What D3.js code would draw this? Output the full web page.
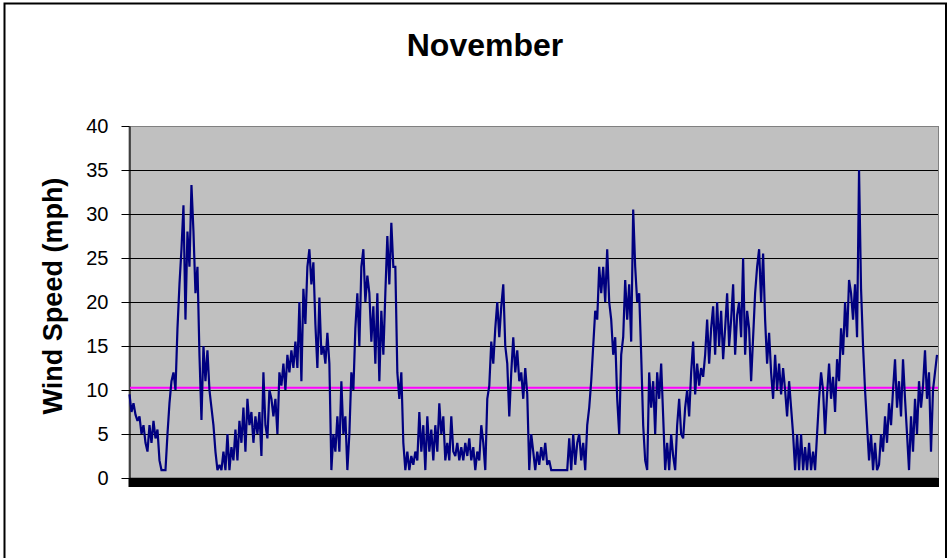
<!DOCTYPE html>
<html>
<head>
<meta charset="utf-8">
<script src="https://cdn.jsdelivr.net/npm/d3@7"></script>
<style>
  html, body { margin: 0; padding: 0; background: #fff; }
  svg { display: block; }
  text { font-family: "Liberation Sans", Arial, sans-serif; }
</style>
</head>
<body>
<svg id="chart" width="948" height="558"></svg>
<script>
// ---- Data (readings of wind speed, mph, in time order across November) ----
const chartTitle = "November";
const yAxisTitle = "Wind Speed (mph)";
const yTicks = [0, 5, 10, 15, 20, 25, 30, 35, 40];
const thresholdValue = 10.25;

const windPart1 = [9.5,7.5,8.5,7.2,6.5,7,5,6,4,3,6,4,6.5,4.5,5.5,2,0.9,0.9,0.9,5,8.5,11,12,10,17,22,26,31,18,28,24,33.3,28,21,24,14,6.6,15,11,14.5,10,8,6,3,0.9,1.5,0.9,3,0.9,5,0.9,3.5,2,5.5,2,6.5,4,8,3,9,6,7.5,4,7,5,7.5];
const windPart2 = [2.5,12,6,4.5,10,9,7,9,5,12,10.5,13,10,14,12,14.5,12.5,15.5,12.5,20,11,21.5,17.5,24,26,22,24.5,17.5,12.5,20.5,14,15,13,16.5,13,0.9,5,3,7,3,11,5,7,0.9,5,12,10,17,21,15,24,26,20,23,21,15.5,19.5,13,21,11,19,14,21,27.5,22,29,24];
const windPart3 = [24,12,9,12,4,0.9,3,0.9,2.5,1.5,3,2,7.5,3,6,0.9,7,3,5.5,2,6,3,8.5,5,7,2,4,2,7,3,2.5,4,2,3.5,2,4,2.5,4.5,2,3.5,0.9,3,2,6,4,0.9,9,10.5,15.5,13,17,20,16,19.5,22,15,13,7,12,16,12,14.5,11,12,9,12.5,9.5];
const windPart4 = [0.9,5,3,0.9,3,1.5,3.5,2,4,1.5,2,0.9,0.9,0.9,0.9,0.9,0.9,0.9,0.9,0.9,4.5,0.9,5,1.5,4,5,2,4,0.9,6,8,11,15,19,18,24,21,24,20,26,20,18,14,16,9,5,14,16,22.5,18,22,15.5,30.5,24,20,21,14,6,2,0.9,12,8,11,5,12,9,13,7];
const windPart5 = [0.9,4,0.9,5,2.5,0.9,6,9,5,4.5,8,10,7,12,15.5,9.5,13,10.5,12.5,11.5,14,18,13,17,19.5,14,20,15,19,13.5,17,21,15,18,22,14,18.5,20,16,25,14,19,17,11,16,21,24,26,20,25.5,18,13,16.5,12,9,14,10,13,9.5,12.5,10,7,11,8,5,0.9,5];
const windPart6 = [0.9,5,0.9,3.5,0.9,4,0.9,3,0.9,5,9,12,10,5,9.5,13,9,11.5,7.5,13.5,11,17,14,20,16,22.5,21,18,22,16,35,21.5,15,10,6,2,5,0.9,4,0.9,1.5,5,3,7,4,8.5,6,10,13.5,8,11,7,13.5,9,5,0.9,7,3,9,5,11,8,10.5,14.5,9,12,3,10,12,14];

const windSpeed = [].concat(windPart1, windPart2, windPart3, windPart4, windPart5, windPart6);

// ---- Layout ----
const svg = d3.select("#chart");
const plot = { left: 129, right: 938, top: 126, bottom: 478 };

// outer chart border
svg.append("rect")
  .attr("x", 4.5).attr("y", 3.5)
  .attr("width", 941.5).attr("height", 570)
  .attr("fill", "#fff").attr("stroke", "#000").attr("stroke-width", 2);

const x = d3.scaleLinear()
  .domain([0, windSpeed.length - 1])
  .range([plot.left + 0.5, plot.right - 1]);
const y = d3.scaleLinear().domain([0, 40]).range([plot.bottom, plot.top]);

// plot area
svg.append("rect")
  .attr("x", plot.left).attr("y", plot.top + 0.5)
  .attr("width", plot.right - plot.left + 0.5).attr("height", plot.bottom - plot.top)
  .attr("fill", "#C0C0C0").attr("stroke", "#808080").attr("stroke-width", 1);

// gridlines
svg.append("g")
  .selectAll("line")
  .data(yTicks.filter(v => v > 0 && v < 40))
  .join("line")
  .attr("x1", plot.left).attr("x2", plot.right)
  .attr("y1", d => Math.round(y(d)) + 0.5).attr("y2", d => Math.round(y(d)) + 0.5)
  .attr("stroke", "#000").attr("stroke-width", 1);

// y axis
const yAxis = svg.append("g")
  .attr("transform", `translate(${plot.left + 0.5},0)`)
  .call(d3.axisLeft(y).tickValues(yTicks).tickSize(8).tickPadding(13).tickSizeOuter(0));
yAxis.select(".domain").attr("stroke", "#000").attr("stroke-width", 1.2);
yAxis.selectAll(".tick line").attr("stroke", "#000");
yAxis.selectAll(".tick text")
  .attr("font-size", 20).attr("fill", "#000")
  .attr("font-family", "'Liberation Sans', Arial, sans-serif");

// x axis: dense category tick marks form a black band
const xAxis = svg.append("g")
  .attr("transform", `translate(0,${plot.bottom})`)
  .call(d3.axisBottom(x).tickValues(d3.range(windSpeed.length)).tickSize(9).tickFormat("").tickSizeOuter(0));
xAxis.select(".domain").attr("stroke", "#000").attr("stroke-width", 1.5);
xAxis.selectAll(".tick line").attr("stroke", "#000").attr("stroke-width", 3);

// threshold line
svg.append("line")
  .attr("x1", plot.left + 1).attr("x2", plot.right)
  .attr("y1", y(thresholdValue)).attr("y2", y(thresholdValue))
  .attr("stroke", "#FF00FF").attr("stroke-width", 2);

// wind speed series
const line = d3.line().x((d, i) => x(i)).y(d => y(d));
svg.append("path")
  .datum(windSpeed)
  .attr("d", line)
  .attr("fill", "none")
  .attr("stroke", "#000080")
  .attr("stroke-width", 2.2)
  .attr("stroke-linejoin", "miter")
  .attr("stroke-miterlimit", 2);

// title
svg.append("text")
  .attr("x", 485).attr("y", 56)
  .attr("text-anchor", "middle")
  .attr("font-size", 32).attr("font-weight", "bold")
  .text(chartTitle);

// y axis title
svg.append("text")
  .attr("transform", `translate(62,296) rotate(-90)`)
  .attr("text-anchor", "middle")
  .attr("font-size", 27).attr("font-weight", "bold")
  .text(yAxisTitle);
</script>
</body>
</html>
